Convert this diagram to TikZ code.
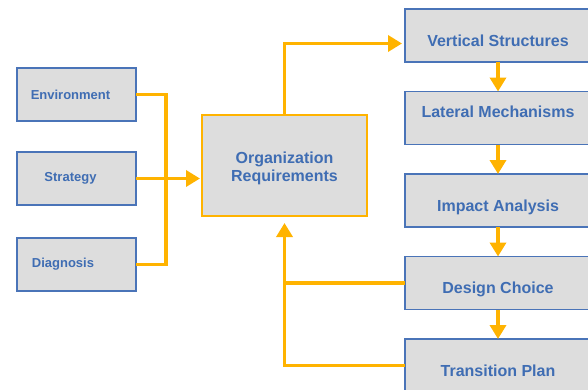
\documentclass[tikz,border=0pt]{standalone}
\usepackage{fontspec}
\setmainfont{Liberation Sans}
\usetikzlibrary{arrows.meta,positioning}

\definecolor{boxblue}{HTML}{4A74B8}
\definecolor{textblue}{HTML}{3F6DB3}
\definecolor{boxgray}{HTML}{DDDDDD}
\definecolor{flow}{HTML}{FFB300}

\begin{document}
\begin{tikzpicture}[
    x=1pt, y=-1pt,
    node distance=29.5pt,
    box/.style={rectangle, draw=boxblue, fill=boxgray, line width=1.6pt,
                text=textblue, inner sep=0pt, outer sep=0pt},
    inbox/.style={box, minimum width=119pt, minimum height=53pt,
                  font=\fontsize{13pt}{15pt}\selectfont\bfseries},
    stepbox/.style={box, minimum width=186pt, minimum height=53pt,
                    font=\fontsize{16pt}{18pt}\selectfont\bfseries,
                    text height=21pt, text depth=0pt},
    reqbox/.style={box, draw=flow, minimum width=165pt, minimum height=101pt,
                   align=center, font=\fontsize{16pt}{18pt}\selectfont\bfseries,
                   text height=36pt},
    link/.style={draw=flow, line width=3.5pt},
    arr/.style={link, -{Triangle[length=14pt, width=16pt]}},
]
\useasboundingbox (0,0) rectangle (588,389);

% inputs
\node[inbox] (env) at (76.5,94.5) {Environment\hspace*{12pt}};
\node[inbox, below=31pt of env] (strat) {Strategy\hspace*{12pt}};
\node[inbox, below=33pt of strat] (diag) {Diagnosis\hspace*{27pt}};

\node[reqbox] (org) at (284.5,165.5) {Organization\\Requirements};

% design steps
\node[stepbox] (vs) at (498,35.5) {Vertical Structures};
\node[stepbox, below=of vs, text height=8pt, text depth=10pt] (lat) {Lateral Mechanisms};
\node[stepbox, below=of lat] (imp) {Impact Analysis};
\node[stepbox, below=of imp] (des) {Design Choice};
\node[stepbox, below=of des] (trans) {Transition Plan};

\coordinate (bus) at ([xshift=30pt]strat.east);

\draw[link] (env.east) -| (bus) |- (diag.east);
\draw[arr, shorten >=2pt] (strat.east) -- (strat.east -| org.west);
\draw[arr, shorten >=3pt] (org.north) |- ([yshift=-8pt]vs.west);

\foreach \a/\b in {vs/lat, lat/imp, imp/des, des/trans}
    \draw[arr] (\a) -- (\b);

% feedback
\draw[link] (des.west) -- (des.west -| org.south);
\draw[arr, shorten >=7pt] (trans.west) -| (org.south);
\end{tikzpicture}
\end{document}
